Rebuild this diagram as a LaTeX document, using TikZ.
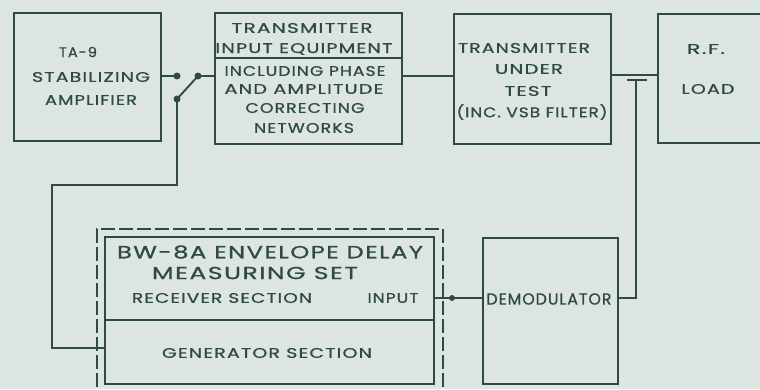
\documentclass[tikz,border=0pt]{standalone}
\usepackage{fontspec}
\usepackage{graphicx}
\setmainfont{Poppins}[LetterSpace=6,FakeBold=0.7]
\definecolor{ink}{HTML}{2F4A42}
\definecolor{paper}{HTML}{DCE5E2}
\newcommand{\fitlab}[2]{\resizebox{#1pt}{\height}{#2}}
\begin{document}
\begin{tikzpicture}[x=1pt,y=-1pt,
  box/.style={draw=ink, line width=2.2pt, rectangle, inner sep=0pt, anchor=north west},
  frame/.style={draw=ink, line width=2pt, dash pattern=on 14pt off 4pt, rectangle, inner sep=0pt, anchor=north west},
  lbl/.style={text=ink, font=\fontsize{14}{14}\selectfont, inner sep=0pt, anchor=center},
  biglbl/.style={lbl, font=\fontsize{17.5}{17.5}\selectfont},
  midlbl/.style={lbl, font=\fontsize{16}{16}\selectfont},
  wire/.style={draw=ink, line width=1.9pt},
  jdot/.style={circle, fill=ink, inner sep=0pt, minimum size=7pt}]
\fill[paper] (0,0) rectangle (760,389);
\useasboundingbox (0,0) rectangle (760,389);
\clip (0,0) rectangle (760,389);
% boxes
\node[box, minimum width=147pt, minimum height=128pt] (ta9) at (13,12) {};
\node[box, minimum width=187pt, minimum height=131pt] (tie) at (214,12) {};
\node[box, minimum width=157pt, minimum height=130pt] (tut) at (453,13) {};
\node[box, minimum width=130pt, minimum height=129pt] (rfl) at (657,13) {};
\node[box, minimum width=135pt, minimum height=146pt] (demod) at (482,237) {};
\node[box, minimum width=329pt, minimum height=147pt] (bw) at (104,236) {};
\node[frame, minimum width=346pt, minimum height=190pt] (frm) at (96,228) {};
\draw[wire] (tie.west |- 0,58) -- (tie.east |- 0,58);
\draw[wire] (bw.west |- 0,320) -- (bw.east |- 0,320);
% texts
\node[lbl] (t1) at (78,52) {\fitlab{38}{TA-9}};
\node[lbl] (t2) at (91,77) {\fitlab{118}{STABILIZING}};
\node[lbl] (t3) at (91,100) {\fitlab{92}{AMPLIFIER}};
\node[lbl] (t4) at (302,28) {\fitlab{141}{TRANSMITTER}};
\node[lbl] (t5) at (304,49) {\fitlab{177}{INPUT EQUIPMENT}};
\node[lbl] (t6) at (305,71) {\fitlab{161}{INCLUDING PHASE}};
\node[lbl] (t7) at (304,89) {\fitlab{159}{AND AMPLITUDE}};
\node[lbl] (t8) at (305,108) {\fitlab{119}{CORRECTING}};
\node[lbl] (t9) at (304,128) {\fitlab{100}{NETWORKS}};
\node[lbl] (t10) at (524,48) {\fitlab{132}{TRANSMITTER}};
\node[lbl] (t11) at (529,69) {\fitlab{68}{UNDER}};
\node[lbl] (t12) at (528,91) {\fitlab{47}{TEST}};
\node[lbl] (t13) at (532,112) {\fitlab{151}{(INC. VSB FILTER)}};
\node[lbl] (t14) at (706,49) {\fitlab{38}{R.F.}};
\node[lbl] (t15) at (708,89) {\fitlab{53}{LOAD}};
\node[biglbl] (t16) at (270,252) {\fitlab{306}{BW-8A ENVELOPE DELAY}};
\node[biglbl] (t17) at (255,273) {\fitlab{206}{MEASURING SET}};
\node[lbl] (t18) at (222,298) {\fitlab{180}{RECEIVER SECTION}};
\node[lbl] (t19) at (393,298) {\fitlab{51}{INPUT}};
\node[lbl] (t20) at (267,353) {\fitlab{210}{GENERATOR SECTION}};
\node[midlbl] (t21) at (549,299) {\fitlab{125}{DEMODULATOR}};
% switch
\node[jdot] (s1) at (177,76) {};
\node[jdot] (s2) at (198,76) {};
\node[jdot] (s3) at (177,99) {};
\coordinate (c1) at (177,185);
\coordinate (c2) at (52,185);
\coordinate (c3) at (52,348);
\draw[wire] (ta9.east |- s1) -- (s1.center);
\draw[wire] (s2.center) -- (tie.west |- s2);
\draw[wire] (s3.center) -- (s2.center);
\draw[wire] (s3.center) -- (c1) -- (c2) -- (c3) -- (bw.west |- c3);
% other wires
\draw[wire] (tie.east |- 0,76) -- (tut.west |- 0,76);
\draw[wire] (tut.east |- 0,75) -- (rfl.west |- 0,75);
\coordinate (tl) at (627,80);
\coordinate (tr) at (647,80);
\coordinate (tm) at (636,80);
\coordinate (td) at (636,298);
\draw[wire] (tl) -- (tr);
\draw[wire] (tm) -- (td) -- (demod.east |- td);
\node[circle, fill=ink, inner sep=0pt, minimum size=6pt] (jk) at (452,298) {};
\draw[wire] (demod.west |- jk) -- (bw.east |- jk);
\end{tikzpicture}
\end{document}
